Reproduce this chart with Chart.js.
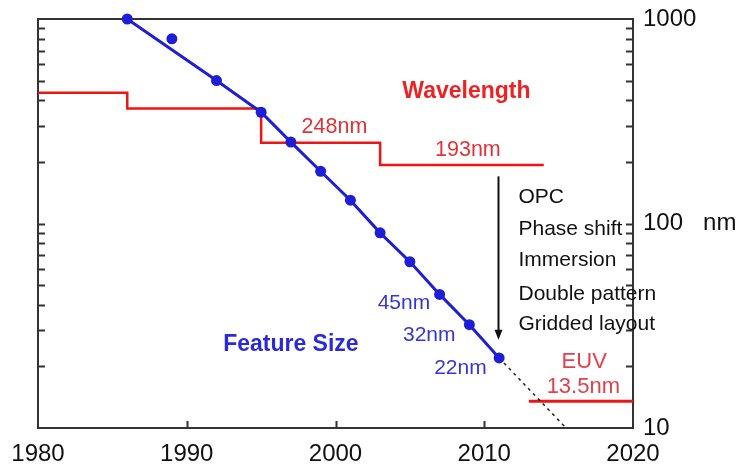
<!DOCTYPE html>
<html>
<head>
<meta charset="utf-8">
<script src="https://cdn.jsdelivr.net/npm/chart.js@4.4.0/dist/chart.umd.min.js"></script>
<style>
  html, body { margin: 0; padding: 0; background: #fff; }
  #wrap { width: 738px; height: 468px; }
</style>
</head>
<body>
<div id="wrap"><canvas id="chart" width="738" height="468"></canvas></div>
<script>
// Feature size (nm) by year
const featureYears = [1986, 1989, 1992, 1995, 1997, 1999, 2001, 2003, 2005, 2007, 2009, 2011];
const featureNm = [1000, 800, 500, 350, 250, 180, 130, 90, 65, 45, 32, 22];

// fitted trend through the points
const trendYears = [1986, 1992, 1995, 1997, 1999, 2001, 2003, 2005, 2007, 2009, 2011];
const trendNm = [1000, 500, 350, 250, 180, 130, 90, 65, 45, 32, 22];

// dotted extrapolation
const extYears = [2011, 2015.5];
const extNm = [22, 10];

// Lithography wavelength (nm), step changes
const waveYears = [1980, 1986, 1995, 2003, 2014];
const waveNm = [436, 365, 248, 193, 193];

const euvYears = [2013, 2020];
const euvNm = [13.5, 13.5];

const xTickLabels = [1980, 1990, 2000, 2010, 2020];
const yTickLabels = [10, 100, 1000];
const yMinorTicks = [20, 30, 40, 50, 60, 70, 80, 90, 100, 200, 300, 400, 500, 600, 700, 800, 900];
const xInnerTicks = [1990, 2000, 2010];

const FONT = '"Liberation Sans", Arial, sans-serif';
const RED = '#ee1515';
const BLUE = '#1e1ed6';

const toXY = (xs, ys) => xs.map((x, i) => ({ x: x, y: ys[i] }));

// text notes, placed in data coordinates
const notes = [
  { text: 'Wavelength', x: 2008.8, y: 450, color: '#ee2222', font: 'bold 23px', align: 'center' },
  { text: '248nm', x: 1999.93, y: 303, color: '#e23238', font: '21.5px', align: 'center' },
  { text: '193nm', x: 2008.9, y: 233, color: '#e23238', font: '21.5px', align: 'center' },
  { text: 'Feature Size', x: 1997.0, y: 26, color: '#2a2ad8', font: 'bold 23px', align: 'center' },
  { text: '45nm', x: 2004.6, y: 41.8, color: '#3535dc', font: '21px', align: 'center' },
  { text: '32nm', x: 2006.3, y: 29.2, color: '#3535dc', font: '21px', align: 'center' },
  { text: '22nm', x: 2008.4, y: 20.1, color: '#3535dc', font: '21px', align: 'center' },
  { text: 'EUV', x: 2016.72, y: 21.5, color: '#e4404c', font: '22px', align: 'center' },
  { text: '13.5nm', x: 2016.66, y: 16.3, color: '#e4404c', font: '22px', align: 'center' },
  { text: 'OPC', x: 2012.3, y: 138, color: '#111', font: '21px', align: 'left' },
  { text: 'Phase shift', x: 2012.3, y: 96, color: '#111', font: '21px', align: 'left' },
  { text: 'Immersion', x: 2012.3, y: 67.8, color: '#111', font: '21px', align: 'left' },
  { text: 'Double pattern', x: 2012.3, y: 46.2, color: '#111', font: '21px', align: 'left' },
  { text: 'Gridded layout', x: 2012.3, y: 33, color: '#111', font: '21px', align: 'left' }
];

const arrow = { x: 2010.9, from: 170, to: 27 };

const decor = {
  id: 'decor',
  beforeDatasetsDraw(chart) {
    const { ctx, chartArea: a, scales: { x, y } } = chart;
    ctx.save();
    ctx.strokeStyle = '#333';
    ctx.lineWidth = 2;
    ctx.strokeRect(a.left, a.top, a.right - a.left, a.bottom - a.top);
    ctx.beginPath();
    yMinorTicks.forEach(v => {
      const py = Math.round(y.getPixelForValue(v)) + 0.5;
      ctx.moveTo(a.left, py); ctx.lineTo(a.left + 7, py);
      ctx.moveTo(a.right, py); ctx.lineTo(a.right - 7, py);
    });
    xInnerTicks.forEach(v => {
      const px = Math.round(x.getPixelForValue(v)) + 0.5;
      ctx.moveTo(px, a.bottom); ctx.lineTo(px, a.bottom - 7);
    });
    ctx.stroke();
    ctx.restore();
  },
  afterDraw(chart) {
    const { ctx, scales: { x, y } } = chart;
    ctx.save();
    ctx.textBaseline = 'middle';
    notes.forEach(n => {
      ctx.font = n.font + ' ' + FONT;
      ctx.fillStyle = n.color;
      ctx.textAlign = n.align;
      // +2 so the glyphs sit visually centred on the point
      ctx.fillText(n.text, x.getPixelForValue(n.x), y.getPixelForValue(n.y) + 2);
    });

    // arrow
    const ax = Math.round(x.getPixelForValue(arrow.x)) + 0.5;
    const y0 = y.getPixelForValue(arrow.from);
    const y1 = y.getPixelForValue(arrow.to);
    ctx.strokeStyle = '#111';
    ctx.fillStyle = '#111';
    ctx.lineWidth = 2;
    ctx.beginPath();
    ctx.moveTo(ax, y0);
    ctx.lineTo(ax, y1 - 8);
    ctx.stroke();
    ctx.beginPath();
    ctx.moveTo(ax - 4, y1 - 10);
    ctx.lineTo(ax + 4, y1 - 10);
    ctx.lineTo(ax, y1);
    ctx.closePath();
    ctx.fill();
    ctx.restore();
  }
};

new Chart(document.getElementById('chart'), {
  type: 'line',
  data: {
    datasets: [
      {
        label: 'Feature size',
        data: toXY(featureYears, featureNm),
        showLine: false,
        pointRadius: 5.5,
        pointBackgroundColor: BLUE,
        pointBorderColor: BLUE,
        pointBorderWidth: 0,
        clip: false
      },
      {
        label: 'Trend',
        data: toXY(trendYears, trendNm),
        borderColor: BLUE,
        borderWidth: 3,
        pointRadius: 0
      },
      {
        label: 'Extrapolation',
        data: toXY(extYears, extNm),
        borderColor: '#222',
        borderWidth: 1.5,
        borderDash: [3, 4],
        pointRadius: 0
      },
      {
        label: 'Wavelength',
        data: toXY(waveYears, waveNm),
        borderColor: RED,
        borderWidth: 2.5,
        pointRadius: 0,
        stepped: 'before'
      },
      {
        label: 'EUV',
        data: toXY(euvYears, euvNm),
        borderColor: RED,
        borderWidth: 3,
        pointRadius: 0
      }
    ]
  },
  options: {
    responsive: false,
    animation: false,
    layout: { autoPadding: false, padding: { left: 38, top: 19, right: 0, bottom: 0 } },
    plugins: {
      legend: { display: false },
      tooltip: { enabled: false }
    },
    scales: {
      x: {
        type: 'linear',
        min: 1980,
        max: 2020,
        afterBuildTicks: s => { s.ticks = xTickLabels.map(v => ({ value: v })); },
        afterFit: s => { s.height = 40; s.paddingLeft = 0; s.paddingRight = 0; },
        grid: { display: false, drawTicks: false },
        border: { display: false },
        ticks: {
          color: '#111',
          padding: 12,
          maxRotation: 0,
          font: { family: FONT, size: 24 },
          callback: v => String(v)
        }
      },
      y: {
        type: 'logarithmic',
        position: 'right',
        min: 10,
        max: 1000,
        afterBuildTicks: s => { s.ticks = yTickLabels.map(v => ({ value: v })); },
        afterFit: s => { s.width = 105; s.paddingTop = 0; s.paddingBottom = 0; },
        grid: { display: false, drawTicks: false },
        border: { display: false },
        ticks: {
          color: '#111',
          padding: 10,
          font: { family: FONT, size: 24 },
          callback: v => v === 100 ? '100   nm' : String(v)
        }
      }
    }
  },
  plugins: [decor]
});
</script>
</body>
</html>
